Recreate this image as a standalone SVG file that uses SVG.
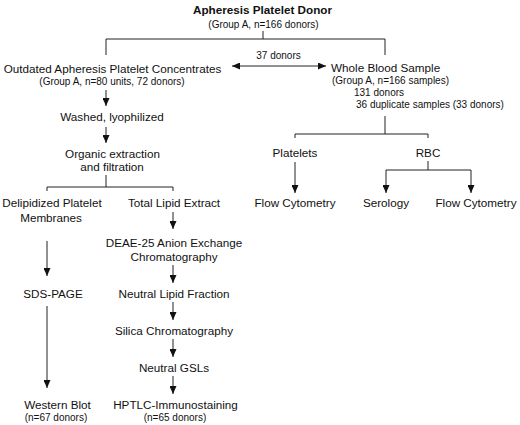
<svg xmlns="http://www.w3.org/2000/svg" width="520" height="425" viewBox="0 0 520 425">
<defs>
<marker id="ah" markerUnits="userSpaceOnUse" markerWidth="8" markerHeight="7" refX="8" refY="3.5" orient="auto-start-reverse">
<path d="M0,0 L8,3.5 L0,7 z" fill="#111"/>
</marker>
<style>
text{font-family:"Liberation Sans",Arial,sans-serif;fill:#111;}
.m{font-size:11.7px;}
.s{font-size:10px;}
.b{font-size:11.7px;font-weight:bold;}
.c{text-anchor:middle;}
.ln{stroke:#222;stroke-width:1;fill:none;}
.ar{stroke:#222;stroke-width:1;fill:none;marker-end:url(#ah);}
.da{stroke:#222;stroke-width:1;fill:none;marker-start:url(#ah);marker-end:url(#ah);}
</style>
</defs>
<rect width="520" height="425" fill="#fff"/>
<g id="connectors">
<path class="ln" d="M263,31 V39 M106,55 V39 H385 V55"/>
<path class="da" d="M232,66 H326"/>
<path class="ar" d="M106,90 V106"/>
<path class="ar" d="M106,127 V143"/>
<path class="ln" d="M106,175 V187 M47,191 V187 H173 V191"/>
<path class="ar" d="M47,241 V276"/>
<path class="ar" d="M173,212 V229"/>
<path class="ar" d="M173,265 V283"/>
<path class="ar" d="M47,306 V388"/>
<path class="ar" d="M173,302 V320"/>
<path class="ar" d="M173,339 V357"/>
<path class="ar" d="M173,376 V394"/>
<path class="ln" d="M385,116 V134 M295,138 V134 H428 V138"/>
<path class="ar" d="M295,162 V193"/>
<path class="ln" d="M428,161 V170"/>
<path class="ar" d="M428,170 H386 V193"/>
<path class="ar" d="M428,170 H471 V193"/>
</g>
<g id="donor"><text class="b c" x="262.5" y="14">Apheresis Platelet Donor</text><text class="s c" x="263.5" y="27.5">(Group A, n=166 donors)</text></g>
<g id="label37"><text class="s c" x="278.5" y="59">37 donors</text></g>
<g id="outdated"><text class="m c" x="112.5" y="72.5">Outdated Apheresis Platelet Concentrates</text><text class="s c" x="112" y="84.5">(Group A, n=80 units, 72 donors)</text></g>
<g id="wholeblood"><text class="m" x="331" y="72">Whole Blood Sample</text><text class="s" x="332" y="84">(Group A, n=166 samples)</text><text class="s" x="354" y="96">131 donors</text><text class="s" x="356" y="108">36 duplicate samples (33 donors)</text></g>
<g id="washed"><text class="m c" x="112" y="120.5">Washed, lyophilized</text></g>
<g id="organic"><text class="m c" x="112.5" y="157.5">Organic extraction</text><text class="m c" x="112" y="171">and filtration</text></g>
<g id="delipidized"><text class="m c" x="52" y="207">Delipidized Platelet</text><text class="m c" x="51" y="222">Membranes</text></g>
<g id="totallipid"><text class="m c" x="174" y="207">Total Lipid Extract</text></g>
<g id="deae"><text class="m c" x="174" y="247">DEAE-25 Anion Exchange</text><text class="m c" x="174" y="261">Chromatography</text></g>
<g id="sdspage"><text class="m c" x="53" y="298">SDS-PAGE</text></g>
<g id="neutrallipid"><text class="m c" x="174" y="298">Neutral Lipid Fraction</text></g>
<g id="silica"><text class="m c" x="174" y="335">Silica Chromatography</text></g>
<g id="gsls"><text class="m c" x="174" y="372">Neutral GSLs</text></g>
<g id="western"><text class="m c" x="57.5" y="409">Western Blot</text><text class="s c" x="56" y="420.5">(n=67 donors)</text></g>
<g id="hptlc"><text class="m c" x="175.5" y="409">HPTLC-Immunostaining</text><text class="s c" x="175" y="420.5">(n=65 donors)</text></g>
<g id="platelets"><text class="m c" x="295" y="157">Platelets</text></g>
<g id="rbc"><text class="m c" x="428" y="157">RBC</text></g>
<g id="flow1"><text class="m c" x="295" y="207">Flow Cytometry</text></g>
<g id="serology"><text class="m c" x="386" y="207">Serology</text></g>
<g id="flow2"><text class="m c" x="476" y="207">Flow Cytometry</text></g>
</svg>
